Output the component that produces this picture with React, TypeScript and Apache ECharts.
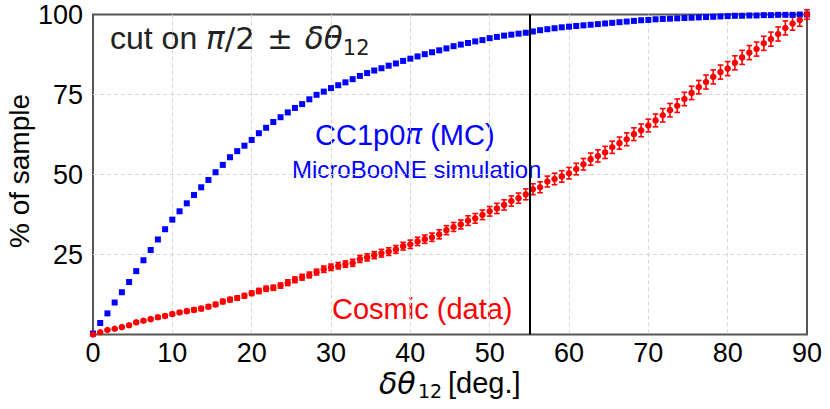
import React, { useEffect, useRef } from "react";
import * as echarts from "echarts";

// bin centres in degrees (100 bins over 0..90)
const angles = [
  0, 0.91, 1.82, 2.73, 3.64, 4.55, 5.45, 6.36, 7.27, 8.18,
  9.09, 10.0, 10.91, 11.82, 12.73, 13.64, 14.55, 15.45, 16.36, 17.27,
  18.18, 19.09, 20.0, 20.91, 21.82, 22.73, 23.64, 24.55, 25.45, 26.36,
  27.27, 28.18, 29.09, 30.0, 30.91, 31.82, 32.73, 33.64, 34.55, 35.45,
  36.36, 37.27, 38.18, 39.09, 40.0, 40.91, 41.82, 42.73, 43.64, 44.55,
  45.45, 46.36, 47.27, 48.18, 49.09, 50.0, 50.91, 51.82, 52.73, 53.64,
  54.55, 55.45, 56.36, 57.27, 58.18, 59.09, 60.0, 60.91, 61.82, 62.73,
  63.64, 64.55, 65.45, 66.36, 67.27, 68.18, 69.09, 70.0, 70.91, 71.82,
  72.73, 73.64, 74.55, 75.45, 76.36, 77.27, 78.18, 79.09, 80.0, 80.91,
  81.82, 82.73, 83.64, 84.55, 85.45, 86.36, 87.27, 88.18, 89.09, 90.0,
];

// CC1p0pi (MC) cumulative % of sample
const mcPercent = [
  0.3, 3.6, 6.6, 10.0, 13.2, 16.4, 19.8, 23.2, 26.4, 29.7,
  32.9, 35.9, 38.5, 41.0, 43.6, 46.0, 48.3, 50.7, 53.0, 55.4,
  57.3, 59.0, 60.8, 62.9, 64.6, 66.4, 67.9, 69.4, 70.8, 72.0,
  73.5, 74.9, 75.9, 77.0, 77.9, 78.8, 79.8, 80.8, 81.7, 82.5,
  83.2, 84.0, 84.7, 85.5, 86.2, 86.9, 87.6, 88.2, 88.8, 89.4,
  90.1, 90.6, 91.1, 91.6, 92.0, 92.6, 93.0, 93.4, 93.7, 94.0,
  94.3, 94.7, 95.1, 95.4, 95.7, 96.0, 96.2, 96.4, 96.6, 96.8,
  97.0, 97.2, 97.4, 97.6, 97.8, 98.0, 98.2, 98.3, 98.5, 98.6,
  98.7, 98.8, 98.9, 99.0, 99.1, 99.2, 99.3, 99.4, 99.5, 99.6,
  99.6, 99.7, 99.7, 99.8, 99.8, 99.9, 99.9, 99.9, 100, 100,
];

// Cosmic (data) cumulative % of sample
const cosmicPercent = [
  0.0, 0.7, 1.4, 1.8, 2.3, 2.9, 3.8, 4.3, 4.8, 5.4,
  5.8, 6.4, 6.9, 7.3, 7.7, 8.1, 8.7, 9.4, 10.3, 10.9,
  11.4, 12.1, 12.9, 13.6, 14.3, 14.6, 15.3, 16.2, 17.1, 17.9,
  18.6, 19.5, 20.4, 21.0, 21.5, 22.0, 22.4, 23.6, 24.1, 24.8,
  25.4, 25.9, 26.6, 27.6, 28.2, 29.1, 29.8, 30.4, 31.3, 32.6,
  33.6, 34.4, 35.6, 36.3, 37.4, 38.5, 39.4, 40.5, 41.7, 42.6,
  43.8, 45.4, 46.0, 47.8, 48.6, 49.4, 50.4, 51.7, 53.2, 54.8,
  55.8, 56.9, 58.5, 59.8, 61.0, 62.6, 63.8, 65.3, 66.9, 68.5,
  70.1, 71.5, 73.6, 75.5, 77.3, 78.9, 80.5, 82.0, 83.1, 84.9,
  86.6, 88.1, 89.2, 91.0, 92.3, 93.9, 95.8, 97.2, 98.3, 100,
];

// statistical error (+/-) on the cosmic points
const cosmicError = [
  0.1, 0.2, 0.3, 0.3, 0.3, 0.4, 0.4, 0.4, 0.4, 0.5,
  0.5, 0.5, 0.5, 0.5, 0.6, 0.6, 0.6, 0.6, 0.7, 0.7,
  0.7, 0.7, 0.7, 0.8, 0.8, 0.8, 0.8, 0.9, 0.9, 0.9,
  0.9, 0.9, 1.0, 1.0, 1.0, 1.0, 1.1, 1.1, 1.1, 1.1,
  1.2, 1.2, 1.2, 1.2, 1.3, 1.3, 1.3, 1.3, 1.4, 1.4,
  1.4, 1.4, 1.5, 1.5, 1.5, 1.5, 1.6, 1.6, 1.6, 1.6,
  1.7, 1.7, 1.7, 1.7, 1.8, 1.8, 1.8, 1.8, 1.8, 1.9,
  1.9, 1.9, 1.9, 1.9, 2.0, 2.0, 2.0, 2.0, 2.0, 2.1,
  2.1, 2.1, 2.1, 2.1, 2.1, 2.2, 2.2, 2.2, 2.2, 2.2,
  2.2, 2.2, 2.2, 2.2, 2.2, 2.2, 2.2, 2.1, 2.0, 1.5,
];

const cutAngle = 55;
const xAxisTitle = "[deg.]";
const yAxisTitle = "% of sample";

const SANS = "'Liberation Sans', Arial, Helvetica, sans-serif";
const MATH = "'DejaVu Sans', sans-serif";

export default function App() {
  const ref = useRef<HTMLDivElement>(null);

  useEffect(() => {
    if (!ref.current) return;
    const chart = echarts.init(ref.current, undefined, { renderer: "svg" });

    const mcData = angles.map((a, i) => [a, mcPercent[i]]);
    const cosmicData = angles.map((a, i) => [a, cosmicPercent[i]]);
    const errData = angles.map((a, i) => [
      a,
      cosmicPercent[i] - cosmicError[i],
      cosmicPercent[i] + cosmicError[i],
    ]);

    const gridLine = { color: "#d6d6d6", type: [4, 3], width: 1 };

    const option: any = {
      animation: false,
      backgroundColor: "#fff",
      grid: {
        left: 93,
        right: 23,
        top: 14.5,
        bottom: 74.5,
        show: true,
        borderColor: "#555",
        borderWidth: 2,
        backgroundColor: "transparent",
      },
      xAxis: {
        type: "value",
        min: 0,
        max: 90,
        interval: 10,
        axisLine: { show: false },
        axisTick: { show: false },
        axisLabel: {
          color: "#000",
          fontFamily: SANS,
          fontSize: 27,
          lineHeight: 22,
          margin: 7,
        },
        splitLine: {
          show: true,
          showMinLine: false,
          showMaxLine: false,
          lineStyle: gridLine,
        },
      },
      yAxis: {
        type: "value",
        min: 0,
        max: 100,
        interval: 25,
        axisLine: { show: false },
        axisTick: { show: false },
        axisLabel: {
          color: "#000",
          fontFamily: SANS,
          fontSize: 27,
          margin: 10,
          formatter: (v: number) => (v === 0 ? "" : String(v)),
        },
        splitLine: {
          show: true,
          showMinLine: false,
          showMaxLine: false,
          lineStyle: gridLine,
        },
      },
      series: [
        {
          type: "scatter",
          name: "CC1p0pi (MC)",
          data: mcData,
          symbol: "rect",
          symbolSize: 6,
          itemStyle: { color: "#0000ff", opacity: 1 },
          z: 3,
          markLine: {
            silent: true,
            symbol: ["none", "none"],
            label: { show: false },
            lineStyle: { color: "#000", width: 2, type: "solid", opacity: 1 },
            data: [{ xAxis: cutAngle }],
          },
        },
        {
          type: "custom",
          name: "Cosmic error",
          data: errData,
          z: 2,
          renderItem: (params: any, api: any) => {
            const x = api.value(0);
            const lo = api.coord([x, api.value(1)]);
            const hi = api.coord([x, api.value(2)]);
            const cap = 2.8;
            const style = { stroke: "#ff0000", lineWidth: 1.6 };
            return {
              type: "group",
              children: [
                { type: "line", shape: { x1: lo[0], y1: lo[1], x2: hi[0], y2: hi[1] }, style },
                { type: "line", shape: { x1: lo[0] - cap, y1: lo[1], x2: lo[0] + cap, y2: lo[1] }, style },
                { type: "line", shape: { x1: hi[0] - cap, y1: hi[1], x2: hi[0] + cap, y2: hi[1] }, style },
              ],
            };
          },
        },
        {
          type: "scatter",
          name: "Cosmic (data)",
          data: cosmicData,
          symbol: "circle",
          symbolSize: 6.5,
          itemStyle: { color: "#ff0000", opacity: 1 },
          z: 4,
        },
      ],
      graphic: [
        {
          type: "text",
          x: 110,
          y: 38,
          style: {
            text: "{a|cut on }{m|π}{b|/2}{p|±}{m|δθ}{s|12}",
            verticalAlign: "middle",
            align: "left",
            fill: "#222",
            rich: {
              a: { fontFamily: SANS, fontSize: 32, fill: "#222", lineHeight: 40 },
              m: { fontFamily: MATH, fontStyle: "italic", fontSize: 31, fill: "#222", lineHeight: 40 },
              b: { fontFamily: MATH, fontSize: 31, fill: "#222", lineHeight: 40 },
              p: { fontFamily: MATH, fontSize: 31, fill: "#222", lineHeight: 40, padding: [0, 12, 0, 12] },
              s: { fontFamily: MATH, fontSize: 21, fill: "#222", lineHeight: 21, verticalAlign: "bottom" },
            },
          },
        },
        {
          type: "text",
          x: 315,
          y: 134.5,
          style: {
            text: "{a|CC1p0}{m|π}{a| (MC)}",
            verticalAlign: "middle",
            align: "left",
            fill: "#0000ff",
            rich: {
              a: { fontFamily: SANS, fontSize: 29, fill: "#0000ff" },
              m: { fontFamily: MATH, fontStyle: "italic", fontSize: 28, fill: "#0000ff" },
            },
          },
        },
        {
          type: "text",
          x: 292,
          y: 169,
          style: {
            text: "MicroBooNE simulation",
            font: `24px ${SANS}`,
            fill: "#0000ff",
            verticalAlign: "middle",
            align: "left",
          },
        },
        {
          type: "text",
          x: 332,
          y: 308.5,
          style: {
            text: "Cosmic (data)",
            font: `29px ${SANS}`,
            fill: "#ff0000",
            verticalAlign: "middle",
            align: "left",
          },
        },
        {
          type: "text",
          x: 19,
          y: 171,
          rotation: Math.PI / 2,
          style: {
            text: yAxisTitle,
            font: `28px ${SANS}`,
            fill: "#000",
            verticalAlign: "middle",
            align: "center",
          },
        },
        {
          type: "text",
          x: 379,
          y: 383,
          style: {
            text: "δθ",
            font: `italic 30px ${MATH}`,
            lineHeight: 22,
            fill: "#000",
            verticalAlign: "middle",
            align: "left",
          },
        },
        {
          type: "text",
          x: 418,
          y: 390.5,
          style: {
            text: "12",
            font: `19px ${MATH}`,
            lineHeight: 16,
            fill: "#000",
            verticalAlign: "middle",
            align: "left",
          },
        },
        {
          type: "text",
          x: 448,
          y: 383,
          style: {
            text: xAxisTitle,
            font: `29px ${SANS}`,
            lineHeight: 22,
            fill: "#000",
            verticalAlign: "middle",
            align: "left",
          },
        },
      ],
    };

    chart.setOption(option);
    return () => chart.dispose();
  }, []);

  return (
    <div
      ref={ref}
      style={{ position: "absolute", left: 0, top: 0, width: 830, height: 409, background: "#fff" }}
    />
  );
}
